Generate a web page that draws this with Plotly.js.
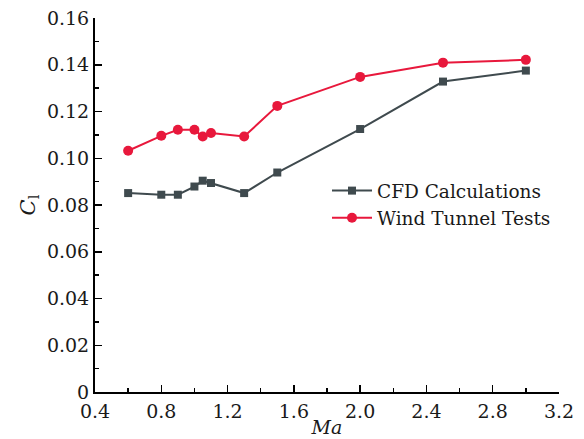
<!DOCTYPE html>
<html><head><meta charset="utf-8">
<script src="https://cdn.plot.ly/plotly-3.0.1.min.js"></script>
<style>html,body{margin:0;padding:0;background:#fff}#chart{width:584px;height:439px}</style>
</head><body><div id="chart"></div>
<script>
const machNumbers = [0.6, 0.8, 0.9, 1.0, 1.05, 1.1, 1.3, 1.5, 2.0, 2.5, 3.0];
const cfdCalculations = [0.0851, 0.0844, 0.0844, 0.0879, 0.0904, 0.0894, 0.0851, 0.0939, 0.1125, 0.1328, 0.1375];
const windTunnelTests = [0.1032, 0.1096, 0.1122, 0.1122, 0.1093, 0.1108, 0.1093, 0.1224, 0.1348, 0.1409, 0.1421];
const seriesNames = ["CFD Calculations", "Wind Tunnel Tests"];
const xTickVals = [0.4, 0.8, 1.2, 1.6, 2.0, 2.4, 2.8, 3.2];
const xTickText = ["0.4", "0.8", "1.2", "1.6", "2.0", "2.4", "2.8", "3.2"];
const yTickVals = [0, 0.02, 0.04, 0.06, 0.08, 0.10, 0.12, 0.14, 0.16];
const yTickText = ["0", "0.02", "0.04", "0.06", "0.08", "0.10", "0.12", "0.14", "0.16"];

const font = "DejaVu Serif";
const traces = [
  {x: machNumbers, y: cfdCalculations, name: seriesNames[0], mode: "lines+markers",
   line: {color: "#3f4a4e", width: 2}, marker: {symbol: "square", size: 8, color: "#3f4a4e"}},
  {x: machNumbers, y: windTunnelTests, name: seriesNames[1], mode: "lines+markers",
   line: {color: "#e8183c", width: 2}, marker: {symbol: "circle", size: 10, color: "#e8183c"}}
];
const layout = {
  width: 584, height: 439,
  font: {family: font, size: 19, color: "#1a1a1a"},
  margin: {l: 95, r: 25, t: 18, b: 47},
  paper_bgcolor: "#fff", plot_bgcolor: "#fff",
  showlegend: true,
  legend: {x: 0.5, y: 0.588, xanchor: "left", yanchor: "top", bgcolor: "rgba(0,0,0,0)",
    font: {family: font, size: 18.5, color: "#1a1a1a"}, tracegroupgap: 0, itemwidth: 40},
  xaxis: {range: [0.4, 3.2], tickmode: "array", tickvals: xTickVals, ticktext: xTickText,
    showgrid: false, zeroline: false, showline: true, linecolor: "#000", linewidth: 2,
    ticks: "inside", ticklen: 7, tickwidth: 1.5, tickcolor: "#000",
    tickfont: {family: font, size: 19, color: "#1a1a1a"}, ticklabelstandoff: 1,
    minor: {dtick: 0.2, tick0: 0.4, ticks: "inside", ticklen: 4, tickwidth: 1.5, tickcolor: "#000"},
    title: {text: "<i>Ma</i>", font: {family: font, size: 19, color: "#1a1a1a"}, standoff: 0}},
  yaxis: {range: [0, 0.16], tickmode: "array", tickvals: yTickVals, ticktext: yTickText,
    showgrid: false, zeroline: false, showline: true, linecolor: "#000", linewidth: 2,
    ticks: "inside", ticklen: 7, tickwidth: 1.5, tickcolor: "#000",
    tickfont: {family: font, size: 19, color: "#1a1a1a"},
    minor: {dtick: 0.01, tick0: 0, ticks: "inside", ticklen: 4, tickwidth: 1.5, tickcolor: "#000"},
    title: {text: "<i>C</i><sub>l</sub>", font: {family: font, size: 21, color: "#1a1a1a"}, standoff: 6}}
};
Plotly.newPlot("chart", traces, layout, {displayModeBar: false, staticPlot: true});
</script></body></html>
